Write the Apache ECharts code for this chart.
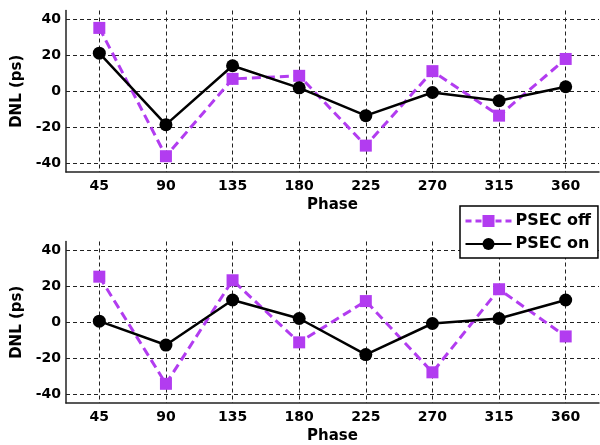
<!DOCTYPE html>
<html>
<head>
<meta charset="utf-8">
<script src="https://cdn.jsdelivr.net/npm/echarts@6/dist/echarts.min.js"></script>
<style>html,body{margin:0;padding:0;background:#fff}#c{width:600px;height:445px}</style>
</head>
<body>
<div id="c"></div>
<script>
const phases = ['45', '90', '135', '180', '225', '270', '315', '360'];
const topOff = [35.3, -36.2, 6.9, 8.6, -30.3, 11.2, -13.6, 18.0];
const topOn = [21.2, -18.6, 14.2, 1.9, -13.6, -0.7, -5.3, 2.5];
const botOff = [25.4, -34.3, 23.4, -11.2, 11.8, -27.9, 18.4, -7.9];
const botOn = [0.6, -12.7, 12.4, 2.1, -18.0, -0.7, 2.1, 12.4];
const yMin = -45, yMax = 45;
const nameOff = 'PSEC off', nameOn = 'PSEC on';

const FONT = 'DejaVu Sans';
const purple = '#B23CF0';
const gridLine = { show: true, alignWithLabel: true, lineStyle: { color: '#222', width: 1, type: [4, 3] } };

function xAxis(idx) {
  return {
    type: 'category', gridIndex: idx, data: phases, boundaryGap: true,
    name: 'Phase', nameLocation: 'middle', nameGap: 26,
    nameTextStyle: { fontFamily: FONT, fontWeight: 'bold', fontSize: 15, color: '#000' },
    axisLine: { show: true, onZero: false, lineStyle: { color: '#222', width: 1.5 } },
    axisTick: { show: false },
    axisLabel: { fontFamily: FONT, fontWeight: 'bold', fontSize: 14, color: '#000', margin: 7 },
    splitLine: gridLine
  };
}
function yAxis(idx) {
  return {
    type: 'value', gridIndex: idx, min: yMin, max: yMax, splitNumber: 5,
    name: 'DNL (ps)', nameLocation: 'middle', nameGap: 37, nameRotate: 90,
    nameTextStyle: { fontFamily: FONT, fontWeight: 'bold', fontSize: 15, color: '#000' },
    axisLine: { show: true, onZero: false, lineStyle: { color: '#222', width: 1.5 } },
    axisTick: { show: false },
    axisLabel: { fontFamily: FONT, fontWeight: 'bold', fontSize: 14, color: '#000', margin: 5, showMinLabel: false, showMaxLabel: false },
    splitLine: { show: true, showMinLine: false, showMaxLine: false, lineStyle: { color: '#222', width: 1, type: [4, 3] } }
  };
}
function offSeries(idx, data) {
  return {
    name: nameOff, type: 'line', xAxisIndex: idx, yAxisIndex: idx, data: data,
    symbol: 'rect', symbolSize: 12, z: 2,
    itemStyle: { color: purple },
    lineStyle: { color: purple, width: 3, type: [9, 5] },
    animation: false
  };
}
function onSeries(idx, data) {
  return {
    name: nameOn, type: 'line', xAxisIndex: idx, yAxisIndex: idx, data: data,
    symbol: 'circle', symbolSize: 13, z: 3,
    itemStyle: { color: '#000' },
    lineStyle: { color: '#000', width: 2.5, type: 'solid' },
    animation: false
  };
}

const chart = echarts.init(document.getElementById('c'), null, { renderer: 'canvas' });
chart.setOption({
  animation: false,
  backgroundColor: '#fff',
  grid: [
    { left: 66, right: 1, top: 10.5, height: 161.5 },
    { left: 66, right: 1, top: 241.5, height: 161.5 }
  ],
  xAxis: [xAxis(0), xAxis(1)],
  yAxis: [yAxis(0), yAxis(1)],
  legend: {
    data: [
      { name: nameOff, itemStyle: { color: purple }, lineStyle: { color: purple, width: 3, type: [6, 4] } },
      { name: nameOn }
    ],
    orient: 'vertical',
    left: 460, top: 206, z: 10,
    backgroundColor: '#fff', borderColor: '#000', borderWidth: 1.5,
    padding: [7, 7, 6, 4], itemWidth: 46, itemHeight: 15, itemGap: 7,
    textStyle: { fontFamily: FONT, fontWeight: 'bold', fontSize: 16, color: '#000', padding: [0, 0, 0, -1] }
  },
  series: [offSeries(0, topOff), onSeries(0, topOn), offSeries(1, botOff), onSeries(1, botOn)]
});
</script>
</body>
</html>
